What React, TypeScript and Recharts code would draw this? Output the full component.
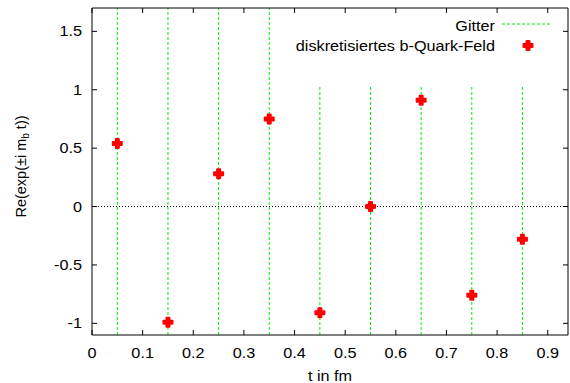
import React from 'react';
import { ComposedChart, Scatter, XAxis, YAxis, ReferenceLine } from 'recharts';

const T_VALUES = [0.05, 0.15, 0.25, 0.35, 0.45, 0.55, 0.65, 0.75, 0.85];
const RE_VALUES = [0.54, -0.99, 0.28, 0.75, -0.91, 0.0, 0.91, -0.76, -0.28];
const GRID_T = [0.05, 0.15, 0.25, 0.35, 0.45, 0.55, 0.65, 0.75, 0.85];
const X_TICKS = [0, 0.1, 0.2, 0.3, 0.4, 0.5, 0.6, 0.7, 0.8, 0.9];
const Y_TICKS = [-1, -0.5, 0, 0.5, 1, 1.5];
const X_DOMAIN = [0, 0.94];
const Y_DOMAIN = [-1.1, 1.7];

const points = T_VALUES.map((t, i) => ({ t, re: RE_VALUES[i] }));

const FONT = '"Liberation Sans", Arial, Helvetica, sans-serif';
const TICK_LEN = 5;
const MARGIN = 6;
const GREEN = '#00ee00';

// gnuplot output was scaled unevenly, so text is a bit wider than tall
const SText = ({ x, y, anchor = 'middle', children }: any) => (
  <g transform={`translate(${x},${y}) scale(1.12,1)`}>
    <text x={0} y={0} textAnchor={anchor} fontSize={14.5} fontFamily={FONT} fill="#000">
      {children}
    </text>
  </g>
);

const BottomTick = (props: any) => {
  const { x, y, payload } = props;
  const axisY = y - MARGIN;
  return (
    <g>
      <line x1={x} x2={x} y1={axisY} y2={axisY - TICK_LEN} stroke="#000" />
      <SText x={x} y={axisY + 23}>{String(payload.value)}</SText>
    </g>
  );
};

const LeftTick = (props: any) => {
  const { x, y, payload } = props;
  const axisX = x + MARGIN;
  return (
    <g>
      <line x1={axisX} x2={axisX + TICK_LEN} y1={y} y2={y} stroke="#000" />
      <SText x={axisX - 10} y={y + 5} anchor="end">{String(payload.value)}</SText>
    </g>
  );
};

// top axis: tick y is the axis line itself (tickSize 0, tickMargin 0)
const TopTick = (props: any) => {
  const { x, y } = props;
  return <line x1={x} x2={x} y1={y} y2={y + TICK_LEN} stroke="#000" />;
};

const RightTick = (props: any) => {
  const { x, y } = props;
  return <line x1={x} x2={x - TICK_LEN} y1={y} y2={y} stroke="#000" />;
};

const PlusShape = (props: any) => {
  const { cx, cy } = props;
  if (cx == null || cy == null) return null;
  return (
    <g fill="#ff0000">
      <rect x={cx - 5.5} y={cy - 2.5} width={11} height={5} rx={1} />
      <rect x={cx - 2.5} y={cy - 5.5} width={5} height={11} rx={1} />
    </g>
  );
};

const NoShape = () => <g />;

const YLabel = (props: any) => {
  const vb = props.viewBox || { x: 0, y: 0, height: 0 };
  const cx = vb.x + 22;
  const cy = vb.y + vb.height / 2 - 5;
  return (
    <text
      x={cx}
      y={cy}
      transform={`rotate(-90 ${cx} ${cy})`}
      textAnchor="middle"
      dominantBaseline="middle"
      fontSize={14.5}
      fontFamily={FONT}
      fill="#000"
    >
      Re(exp(±i m<tspan fontSize={10} dy={4}>b</tspan>
      <tspan dy={-4}> t))</tspan>
    </text>
  );
};

const XLabel = (props: any) => {
  const vb = props.viewBox || { x: 0, y: 0, width: 0 };
  return <SText x={vb.x + vb.width / 2} y={vb.y + 46}>t in fm</SText>;
};

// opaque key box like gnuplot's "set key opaque"
const KeyBox = () => (
  <g transform="translate(290,8)">
    <rect x={0} y={0} width={277} height={78} fill="#fff" />
    <SText x={205} y={22.5} anchor="end">Gitter</SText>
    <line x1={212} x2={260} y1={16} y2={16} stroke={GREEN} strokeDasharray="3 2" />
    <SText x={205} y={43} anchor="end">diskretisiertes b-Quark-Feld</SText>
    <PlusShape cx={238} cy={37.5} />
  </g>
);

export default function App() {
  return (
    <div style={{ position: 'absolute', left: 0, top: 0, background: '#fff', fontFamily: FONT }}>
      <ComposedChart width={570} height={383} data={points} margin={{ top: 7, right: 1, bottom: 0, left: 0 }}>
        {GRID_T.map((t) => (
          <ReferenceLine key={t} x={t} stroke={GREEN} strokeDasharray="3 2" zIndex={-50} />
        ))}
        <ReferenceLine y={0} stroke="#000" strokeDasharray="1 2" zIndex={-50} />
        <KeyBox />
        <Scatter
          xAxisId="top"
          yAxisId="right"
          dataKey="re"
          shape={<NoShape />}
          legendType="none"
          isAnimationActive={false}
        />
        <Scatter dataKey="re" shape={<PlusShape />} fill="#ff0000" isAnimationActive={false} />
        <XAxis
          dataKey="t"
          type="number"
          domain={X_DOMAIN}
          ticks={X_TICKS}
          interval={0}
          allowDataOverflow
          height={48}
          tickSize={0}
          tickMargin={MARGIN}
          tick={<BottomTick />}
          axisLine={{ stroke: '#000' }}
          label={<XLabel />}
        />
        <XAxis
          xAxisId="top"
          dataKey="t"
          orientation="top"
          type="number"
          domain={X_DOMAIN}
          ticks={X_TICKS}
          interval={0}
          allowDataOverflow
          height={1}
          tickSize={0}
          tickMargin={0}
          tick={<TopTick />}
          axisLine={{ stroke: '#000' }}
        />
        <YAxis
          type="number"
          domain={Y_DOMAIN}
          ticks={Y_TICKS}
          interval={0}
          allowDataOverflow
          width={92}
          tickSize={0}
          tickMargin={MARGIN}
          tick={<LeftTick />}
          axisLine={{ stroke: '#000' }}
          label={<YLabel />}
        />
        <YAxis
          yAxisId="right"
          orientation="right"
          type="number"
          domain={Y_DOMAIN}
          ticks={Y_TICKS}
          interval={0}
          allowDataOverflow
          width={1}
          tickSize={0}
          tickMargin={0}
          tick={<RightTick />}
          axisLine={{ stroke: '#000' }}
        />
      </ComposedChart>
    </div>
  );
}
